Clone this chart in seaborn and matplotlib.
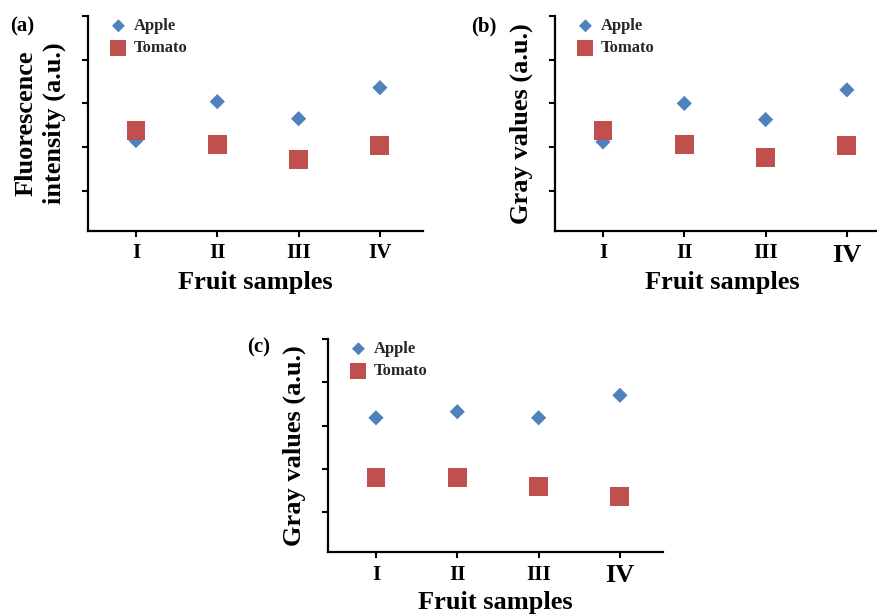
import numpy as np
import pandas as pd
import matplotlib
matplotlib.use('Agg')
import matplotlib.pyplot as plt
import seaborn as sns

samples = ['I', 'II', 'III', 'IV']
apple_a = [2.15, 3.04, 2.65, 3.36]
tomato_a = [2.38, 2.05, 1.71, 2.03]
apple_b = [2.12, 3.00, 2.63, 3.31]
tomato_b = [2.38, 2.05, 1.76, 2.03]
apple_c = [3.18, 3.32, 3.18, 3.70]
tomato_c = [1.80, 1.80, 1.59, 1.36]

panel_labels = ['(a)', '(b)', '(c)']
ylabels = ['Fluorescence\nintensity (a.u.)', 'Gray values (a.u.)', 'Gray values (a.u.)']
xlabel = 'Fruit samples'

APPLE_C = '#4F81BD'
TOMATO_C = '#C0504D'

sns.set_theme(style='white')
plt.rcParams['font.family'] = ['Liberation Serif', 'DejaVu Serif']
plt.rcParams['font.weight'] = 'bold'
plt.rcParams['axes.labelweight'] = 'bold'

fig = plt.figure(figsize=(8.77, 6.15), dpi=100)
FW, FH = 877.0, 615.0
W = 335 / FW

rects = [
    [88 / FW, 1 - 231 / FH, W, 215 / FH],
    [555 / FW, 1 - 231 / FH, W, 215 / FH],
    [328 / FW, 1 - 552 / FH, W, 213 / FH],
]
label_pos = [(10 / FW, 1 - 26 / FH), (471 / FW, 1 - 26 / FH), (247 / FW, 1 - 347 / FH)]
apples = [apple_a, apple_b, apple_c]
tomatoes = [tomato_a, tomato_b, tomato_c]
big_iv = [False, True, True]

for i in range(3):
    ax = fig.add_axes(rects[i])
    df = pd.DataFrame({'pos': np.arange(len(samples)), 'Apple': apples[i], 'Tomato': tomatoes[i]})
    sns.scatterplot(data=df, x='pos', y='Apple', marker='D', s=60, color=APPLE_C,
                    linewidth=0, edgecolor='none', label='Apple', ax=ax, zorder=3)
    sns.scatterplot(data=df, x='pos', y='Tomato', marker='s', s=185, color=TOMATO_C,
                    linewidth=0, edgecolor='none', label='Tomato', ax=ax, zorder=4)
    ax.set_xlim(-0.59, 3.53)
    ax.set_ylim(0.08, 5.0)
    ax.set_yticks([1, 2, 3, 4, 5])
    ax.set_yticklabels([])
    ax.set_xticks(np.arange(len(samples)))
    ax.set_xticklabels(samples, fontsize=15, fontweight='bold')
    if big_iv[i]:
        ax.get_xticklabels()[3].set_fontsize(19)
    sns.despine(ax=ax)
    for sp in ['left', 'bottom']:
        ax.spines[sp].set_linewidth(1.6)
        ax.spines[sp].set_color('black')
    ax.tick_params(axis='both', direction='out', length=4, width=1.5, color='black',
                   bottom=True, left=True, pad=5, labelcolor='black')
    ax.set_ylabel(ylabels[i], fontsize=19, fontweight='bold', color='black', linespacing=1.3)
    ax.yaxis.set_label_coords(-0.066, 0.5)
    ax.set_xlabel(xlabel, fontsize=19, fontweight='bold', color='black')
    ax.xaxis.set_label_coords(0.5, -0.185)
    leg = ax.legend(loc='upper left', bbox_to_anchor=(0.066, 0.99), frameon=False,
                    borderpad=0, borderaxespad=0, handlelength=1.0, handletextpad=0.4,
                    labelspacing=0.38, markerscale=0.85,
                    prop={'family': ['Liberation Serif'], 'weight': 'bold', 'size': 12})
    fig.text(label_pos[i][0], label_pos[i][1], panel_labels[i], fontsize=15,
             fontweight='bold', ha='left', va='center', color='black')

fig.savefig('out.png', dpi=100)
